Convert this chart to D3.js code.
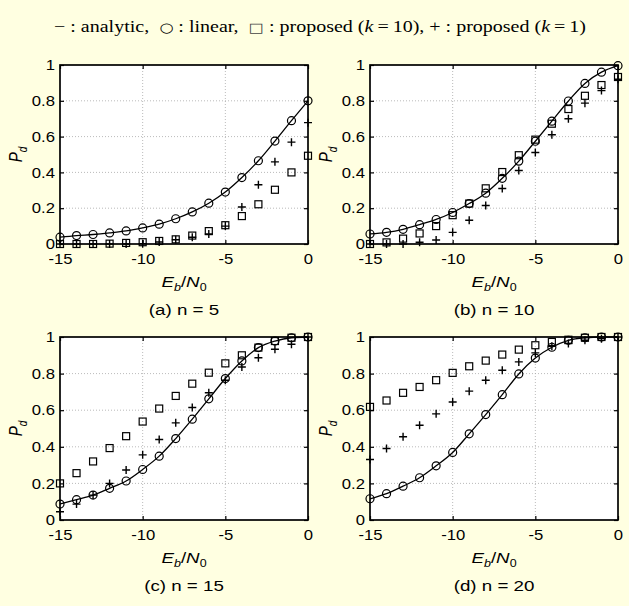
<!DOCTYPE html>
<html><head><meta charset="utf-8">
<script src="https://cdn.jsdelivr.net/npm/d3@7"></script>
<style>
html,body{margin:0;padding:0;background:#fff;}
svg{display:block;}
</style></head>
<body>
<script>
// ---- data ----
const ebn0 = [-15,-14,-13,-12,-11,-10,-9,-8,-7,-6,-5,-4,-3,-2,-1,0];
const xTicks = [-15,-10,-5,0];
const xTickLabels = ["-15","-10","-5","0"];
const yTicks = [0,0.2,0.4,0.6,0.8,1];
const yTickLabels = ["0","0.2","0.4","0.6","0.8","1"];
const captions = ["(a) n = 5","(b) n = 10","(c) n = 15","(d) n = 20"];

const analyticA = [0.038,0.047,0.053,0.062,0.073,0.09,0.111,0.141,0.179,0.228,0.29,0.371,0.465,0.575,0.689,0.80];
const linearA   = [0.038,0.047,0.053,0.062,0.073,0.09,0.111,0.141,0.179,0.228,0.29,0.371,0.465,0.575,0.689,0.80];
const k10A      = [0,0,0,0.002,0.006,0.01,0.017,0.026,0.047,0.072,0.105,0.156,0.222,0.303,0.40,0.493];
const k1A       = [0,0,0,0,0,0.002,0.011,0.024,0.038,0.056,0.10,0.207,0.331,0.459,0.569,0.678];

const analyticB = [0.056,0.065,0.082,0.108,0.137,0.176,0.226,0.284,0.367,0.463,0.574,0.686,0.799,0.897,0.96,0.996];
const linearB   = [0.056,0.065,0.082,0.108,0.137,0.176,0.226,0.284,0.367,0.463,0.574,0.686,0.799,0.897,0.96,0.996];
const k10B      = [0,0.009,0.03,0.059,0.1,0.161,0.226,0.311,0.402,0.496,0.583,0.672,0.754,0.828,0.888,0.933];
const k1B       = [0,0,0,0.01,0.022,0.065,0.133,0.215,0.31,0.411,0.511,0.61,0.70,0.787,0.857,0.92];

const analyticC = [0.087,0.111,0.136,0.173,0.213,0.276,0.349,0.445,0.551,0.662,0.773,0.869,0.942,0.978,0.996,1.0];
const linearC   = [0.087,0.111,0.136,0.173,0.213,0.276,0.349,0.445,0.551,0.662,0.773,0.869,0.942,0.978,0.996,1.0];
const k10C      = [0.2,0.256,0.32,0.393,0.458,0.538,0.609,0.678,0.745,0.805,0.856,0.9,0.942,0.978,0.996,1.0];
const k1C       = [0.045,0.087,0.136,0.2,0.273,0.356,0.44,0.531,0.615,0.695,0.764,0.836,0.887,0.933,0.96,1.0];

const analyticD = [0.116,0.144,0.185,0.231,0.296,0.369,0.471,0.576,0.685,0.798,0.885,0.944,0.982,0.996,1.0,1.0];
const linearD   = [0.116,0.144,0.185,0.231,0.296,0.369,0.471,0.576,0.685,0.798,0.885,0.944,0.982,0.996,1.0,1.0];
const k10D      = [0.618,0.653,0.695,0.727,0.764,0.804,0.84,0.871,0.904,0.931,0.955,0.973,0.985,0.996,1.0,1.0];
const k1D       = [0.331,0.391,0.455,0.518,0.58,0.645,0.704,0.764,0.818,0.864,0.913,0.949,0.964,0.982,0.991,1.0];

const panelsData = [
  {analytic:analyticA, linear:linearA, k10:k10A, k1:k1A},
  {analytic:analyticB, linear:linearB, k10:k10B, k1:k1B},
  {analytic:analyticC, linear:linearC, k10:k10C, k1:k1C},
  {analytic:analyticD, linear:linearD, k10:k10D, k1:k1D}
];

// ---- layout ----
const W = 629, H = 606;
const PW = 248;
const lefts = [60, 370];
const tops = [65, 337];
const heights = [179, 183];
const SX = 1.25;   // horizontal text stretch seen in the reference
const SXT = 1.15;  // tick label stretch
const sans = "'Liberation Sans', Arial, sans-serif";
const serif = "'Liberation Serif', 'Times New Roman', serif";

const svg = d3.select("body").append("svg").attr("width", W).attr("height", H);
svg.append("rect").attr("x",0).attr("y",0).attr("width",W).attr("height",H).attr("fill","#ffffe1");

function stretchedText(x, y, extra) {
  return svg.append("g").attr("transform", `translate(${x},${y}) scale(${SX},1)` + (extra || ""))
    .append("text").attr("x", 0).attr("y", 0);
}

// title
const NB = "\u00A0";
const title = stretchedText(320, 32).attr("text-anchor","middle")
  .attr("font-family", serif).attr("font-size", 16).attr("fill","#000");
title.append("tspan").text("−" + NB + ":" + NB + "analytic," + NB + NB);
title.append("tspan").attr("font-family","'DejaVu Sans', sans-serif").attr("font-size",13).text("○");
title.append("tspan").text(NB + ":" + NB + "linear," + NB + NB);
title.append("tspan").attr("font-family","'DejaVu Sans', sans-serif").attr("font-size",13).attr("fill","#444").text("□");
title.append("tspan").text(NB + ":" + NB + "proposed (");
title.append("tspan").attr("font-style","italic").text("k");
title.append("tspan").text("\u2009=\u200910), + : proposed (");
title.append("tspan").attr("font-style","italic").text("k");
title.append("tspan").text("\u2009=\u20091)");

panelsData.forEach((pd, i) => {
  const x0 = lefts[i % 2], y0 = tops[Math.floor(i / 2)], PH = heights[Math.floor(i / 2)];
  const x = d3.scaleLinear().domain([-15, 0]).range([x0, x0 + PW]);
  const y = d3.scaleLinear().domain([0, 1]).range([y0 + PH, y0]);
  const g = svg.append("g");

  g.append("rect").attr("x", x0).attr("y", y0).attr("width", PW).attr("height", PH).attr("fill", "#fff");

  // grid
  g.selectAll(".gx").data(xTicks.slice(1, -1)).join("line")
    .attr("x1", d => x(d)).attr("x2", d => x(d)).attr("y1", y0).attr("y2", y0 + PH)
    .attr("stroke", "#a8a8a8").attr("stroke-width", 0.8).attr("stroke-dasharray", "1,2");
  g.selectAll(".gy").data(yTicks.slice(1, -1)).join("line")
    .attr("y1", d => y(d)).attr("y2", d => y(d)).attr("x1", x0).attr("x2", x0 + PW)
    .attr("stroke", "#a8a8a8").attr("stroke-width", 0.8).attr("stroke-dasharray", "1,2");

  // axes with inward ticks
  const ax = (gen, tr) => g.append("g").attr("transform", tr).call(gen)
    .call(s => s.select(".domain").remove())
    .call(s => s.selectAll("line").attr("stroke", "#000").attr("stroke-width", 1.2));
  const bottom = ax(d3.axisBottom(x).tickValues(xTicks).tickSizeInner(-4).tickSizeOuter(0).tickPadding(10)
    .tickFormat((d, j) => xTickLabels[j]), `translate(0,${y0 + PH})`);
  bottom.selectAll("text").attr("font-family", sans).attr("font-size", 14.5).attr("fill", "#000")
    .attr("transform", `scale(${SXT},1)`);
  ax(d3.axisTop(x).tickValues(xTicks).tickSizeInner(-4).tickSizeOuter(0).tickFormat(""), `translate(0,${y0})`);
  const left = ax(d3.axisLeft(y).tickValues(yTicks).tickSizeInner(-4).tickSizeOuter(0).tickPadding(5)
    .tickFormat((d, j) => yTickLabels[j]), `translate(${x0},0)`);
  left.selectAll("text").attr("font-family", sans).attr("font-size", 14.5).attr("fill", "#000")
    .attr("x", -5 / SXT).attr("transform", `scale(${SXT},1)`);
  ax(d3.axisRight(y).tickValues(yTicks).tickSizeInner(-4).tickSizeOuter(0).tickFormat(""), `translate(${x0 + PW},0)`);

  g.append("rect").attr("x", x0).attr("y", y0).attr("width", PW).attr("height", PH)
    .attr("fill", "none").attr("stroke", "#000").attr("stroke-width", 1.7);

  // analytic line
  const line = d3.line().x((d, j) => x(ebn0[j])).y(d => y(d)).curve(d3.curveMonotoneX);
  g.append("path").attr("d", line(pd.analytic)).attr("fill", "none").attr("stroke", "#000").attr("stroke-width", 1.3);

  // linear circles
  g.selectAll(".c").data(pd.linear).join("circle")
    .attr("cx", (d, j) => x(ebn0[j])).attr("cy", d => y(d)).attr("r", 4)
    .attr("fill", "none").attr("stroke", "#000").attr("stroke-width", 1.2);
  // k=10 squares
  g.selectAll(".s").data(pd.k10).join("rect")
    .attr("x", (d, j) => x(ebn0[j]) - 3.5).attr("y", d => y(d) - 3.5).attr("width", 7).attr("height", 7)
    .attr("fill", "none").attr("stroke", "#000").attr("stroke-width", 1.2);
  // k=1 plus
  g.selectAll(".p").data(pd.k1).join("path")
    .attr("d", (d, j) => { const cx = x(ebn0[j]), cy = y(d); return `M${cx - 4},${cy}H${cx + 4}M${cx},${cy - 4}V${cy + 4}`; })
    .attr("fill", "none").attr("stroke", "#000").attr("stroke-width", 1.4);

  // y label P_d
  const yl = stretchedText(x0 - 38, y0 + PH / 2, " rotate(-90)")
    .attr("text-anchor", "middle").attr("font-family", sans).attr("font-size", 15).attr("font-style", "italic");
  yl.append("tspan").text("P");
  yl.append("tspan").attr("font-size", 10).attr("dy", 4).text("d");

  // x label E_b/N_0
  const xl = stretchedText(x0 + PW / 2, y0 + PH + 43)
    .attr("text-anchor", "middle").attr("font-family", sans).attr("font-size", 15);
  xl.append("tspan").attr("font-style", "italic").text("E");
  xl.append("tspan").attr("font-style", "italic").attr("font-size", 10).attr("dy", 4).text("b");
  xl.append("tspan").attr("dy", -4).text("/");
  xl.append("tspan").attr("font-style", "italic").text("N");
  xl.append("tspan").attr("font-size", 10).attr("dy", 4).text("0");

  // caption
  stretchedText(x0 + PW / 2, y0 + PH + 71)
    .attr("text-anchor", "middle").attr("font-family", sans).attr("font-size", 15).text(captions[i]);
});
</script>
</body></html>
